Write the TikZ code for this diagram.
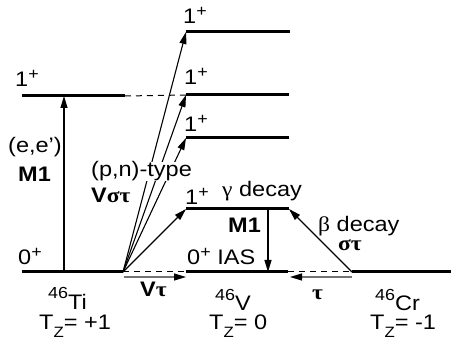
\documentclass[tikz,border=0pt]{standalone}
\usepackage{fontspec}
\setmainfont[FakeStretch=1.12]{Liberation Sans}
\newfontfamily\grk[FakeStretch=1.12]{Liberation Serif}
\usetikzlibrary{arrows.meta}
\tikzset{
	level/.style={line width=3pt},
	trans/.style={line width=1.1pt, -{Triangle[length=12pt,width=7pt]}},
	shifttrans/.style={line width=1.1pt, draw=black!55, -{Triangle[length=12pt,width=7pt,color=black]}},
	guide/.style={line width=1pt, dash pattern=on 6pt off 5pt}
}
\tikzset{
	lbl/.style={inner sep=0pt, anchor=base west, font=\fontsize{21}{24}\selectfont}
}
\tikzset{
	boldlbl/.style={lbl, font=\fontsize{21}{24}\selectfont\bfseries}
}
\newcommand{\spin}[1]{#1\raisebox{7pt}{\fontsize{16}{16}\selectfont +}}
\newcommand{\nucl}[1]{\raisebox{10pt}{\fontsize{16}{16}\selectfont 46}#1}
\newcommand{\tzee}[1]{T\raisebox{-8pt}{\fontsize{15}{15}\selectfont Z}= #1}

\begin{document}
\begin{tikzpicture}[x=1pt, y=-1pt]
	\useasboundingbox (0,0) rectangle (451,345);

	\begin{scope}
		% 46Ti
		\coordinate (tiA) at (22,272);
		\coordinate (tiB) at (123,272);
		\coordinate (tiM) at (64,272);
		\coordinate (tiC) at (22,96);
		\coordinate (tiD) at (125,96);
		\coordinate (tiN) at (64,96);

		% 46V
		\coordinate (vA1) at (186,32);   \coordinate (vB1) at (290,32);
		\coordinate (vA2) at (186,95);   \coordinate (vB2) at (289,95);
		\coordinate (vA3) at (186,138);  \coordinate (vB3) at (289,138);
		\coordinate (vA4) at (186,209);  \coordinate (vB4) at (289,209);
		\coordinate (vIA) at (186,272);  \coordinate (vIB) at (288,272);
		\coordinate (vG) at (268,209);
		\coordinate (vH) at (268,272);

		% 46Cr
		\coordinate (crA) at (352,272);
		\coordinate (crB) at (451,272);

		% shift arrows
		\coordinate (sA) at (124,277);
		\coordinate (sB) at (186,277);
		\coordinate (sC) at (352,277);
		\coordinate (sD) at (290,277);
	\end{scope}

	\begin{scope}
		\draw[level] (tiA) -- (tiB);
		\draw[level] (tiC) -- (tiD);
		\draw[level] (vA1) -- (vB1);
		\draw[level] (vA2) -- (vB2);
		\draw[level] (vA3) -- (vB3);
		\draw[level] (vA4) -- (vB4);
		\draw[level] (vIA) -- (vIB);
		\draw[level] (crA) -- (crB);

		\draw[guide] (tiD) -- (vA2);
		\draw[guide] (tiB) -- (vIA);
		\draw[guide] (vIB) -- (crA);
	\end{scope}

	\begin{scope}
		\draw[trans] (tiM) -- (tiN);
		\draw[trans] (tiB) -- (vA1);
		\draw[trans] (tiB) -- (vA2);
		\draw[trans] (tiB) -- (vA3);
		\draw[trans] (tiB) -- (vA4);
		\draw[trans] (vG) -- (vH);
		\draw[trans] (crA) -- (vB4);
		\draw[shifttrans] (sA) -- (sB);
		\draw[shifttrans] (sC) -- (sD);
	\end{scope}

	\begin{scope}
		\node[lbl] (s1) at (15,87) {\spin{1}};
		\node[lbl] (s0) at (18,265) {\spin{0}};
		\node[lbl] (ee) at (8,153) {(e,e')};
		\node[boldlbl] (m1a) at (18,182) {M1};

		\node[lbl, fill=white] (pn) at (91,177) {(p,n)-type};
		\node[boldlbl] (vst) at (91,203) {V{\grk στ}};

		\node[lbl] (v1) at (183,24) {\spin{1}};
		\node[lbl] (v2) at (184,85) {\spin{1}};
		\node[lbl] (v3) at (184,132) {\spin{1}};
		\node[lbl] (v4) at (185,205) {\spin{1}};
		\node[lbl] (ias) at (187,265) {\spin{0} IAS};

		\node[lbl] (gam) at (222,197) {{\grk γ} decay};
		\node[boldlbl] (m1b) at (228,233) {M1};
		\node[lbl] (bet) at (318,232) {{\grk β} decay};
		\node[boldlbl] (st) at (338,251) {\grk στ};

		\node[boldlbl] (vt) at (140,297) {V{\grk τ}};
		\node[boldlbl] (t) at (312,300) {\grk τ};

		\node[lbl] (ti) at (48,309) {\nucl{Ti}};
		\node[lbl] (tz1) at (39,330) {\tzee{+1}};
		\node[lbl] (v) at (215,311) {\nucl{V}};
		\node[lbl] (tz0) at (209,330) {\tzee{0}};
		\node[lbl] (cr) at (375,311) {\nucl{Cr}};
		\node[lbl] (tzm) at (370,330) {\tzee{-1}};
	\end{scope}

\end{tikzpicture}
\end{document}
